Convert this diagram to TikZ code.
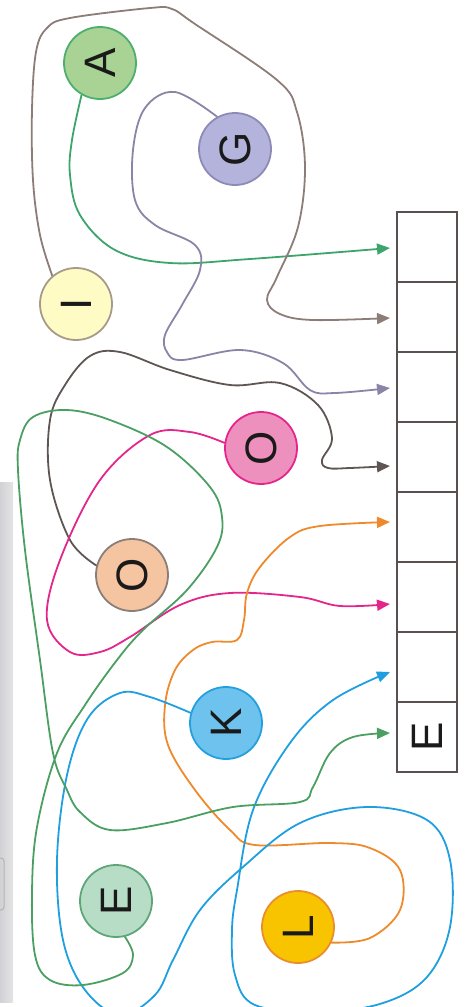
\documentclass[tikz,border=0pt]{standalone}
\usepackage{fontspec}
\setmainfont{Liberation Sans}
\usetikzlibrary{arrows.meta}
\pgfdeclarelayer{background}
\pgfsetlayers{background,main}
\definecolor{lA}{HTML}{3DA56B}\definecolor{fA}{HTML}{A8D394}\definecolor{dA}{HTML}{4DAE6E}
\definecolor{lI}{HTML}{8C7D78}\definecolor{fI}{HTML}{FFFBC4}\definecolor{dI}{HTML}{A89A88}
\definecolor{lG}{HTML}{8A84A6}\definecolor{fG}{HTML}{B4B3DC}\definecolor{dG}{HTML}{8E8AB8}
\definecolor{lP}{HTML}{5F5654}\definecolor{fP}{HTML}{F5C4A1}\definecolor{dP}{HTML}{8A7E78}
\definecolor{lM}{HTML}{E4268C}\definecolor{fM}{HTML}{EE90BE}\definecolor{dM}{HTML}{E4268C}
\definecolor{lL}{HTML}{EE8A2C}\definecolor{fL}{HTML}{F8C400}\definecolor{dL}{HTML}{EA8E2C}
\definecolor{lK}{HTML}{1F9FDF}\definecolor{fK}{HTML}{6EC3EE}\definecolor{dK}{HTML}{23A0DD}
\definecolor{lE}{HTML}{4B9F62}\definecolor{fE}{HTML}{B8DDC6}\definecolor{dE}{HTML}{5EA578}
\definecolor{boxc}{HTML}{5A5050}
\definecolor{ink}{HTML}{1A1A1A}
\definecolor{stripA}{HTML}{D2D2D6}
\definecolor{stripB}{HTML}{E4E4E6}
\newcommand{\rl}[1]{\rotatebox{90}{#1}}
\begin{document}
\begin{tikzpicture}[x=1pt,y=-1pt,
  ball/.style={circle,minimum size=72pt,inner sep=0pt,line width=1.8pt,
    text=ink,font=\fontsize{44}{44}\selectfont},
  cell/.style={rectangle,draw=boxc,line width=2pt,minimum width=60pt,minimum height=70pt,inner sep=0pt,
    text=ink,font=\fontsize{44}{44}\selectfont},
  wire/.style={line width=1.8pt,line cap=round,line join=round},
  tip/.style={-{Triangle[length=13pt,width=11pt]}}]
\useasboundingbox (0,0) rectangle (467,1007);
\clip (0,0) rectangle (467,1007);
% left grey strip
\fill[left color=stripA,right color=stripB] (0,482) rectangle (13,1002);
\draw[gray!60,line width=1pt,rounded corners=3pt] (-6,858) rectangle (4,910);
% cells
\foreach \i/\y in {1/247,2/317,3/387,4/457,5/527,6/597,7/667}
  \node[cell] (b\i) at (427,\y) {};
\node[cell] (b8) at (427,737) {\rl{E}};
% tips
\coordinate (t1) at (390,248);
\coordinate (t2) at (390,318);
\coordinate (t3) at (390,388);
\coordinate (t4) at (390,466);
\coordinate (t5) at (390,522);
\coordinate (t6) at (390,604);
\coordinate (t7) at (390,672);
\coordinate (t8) at (390,733);
% circles
\node[ball,fill=fA,draw=dA] (A) at (100,63) {\rl{A}};
\node[ball,fill=fG,draw=dG] (G) at (235,149) {\rl{G}};
\node[ball,fill=fI,draw=dI] (I) at (76,304) {\rl{I}};
\node[ball,fill=fM,draw=dM] (O1) at (261,448) {\rl{O}};
\node[ball,fill=fP,draw=dP] (O2) at (132,575) {\rl{O}};
\node[ball,fill=fK,draw=dK] (K) at (226,723) {\rl{K}};
\node[ball,fill=fE,draw=dE] (E) at (116,901) {\rl{E}};
\node[ball,fill=fL,draw=dL] (L) at (298,927) {\rl{L}};
% wires
\begin{pgfonlayer}{background}
\draw[wire,tip,lA] plot[smooth,tension=0.6] coordinates {(A.240) (72,140) (70,175) (80,215) (115,250) (170,263) (250,259) (t1)};
\draw[wire,tip,lI] plot[smooth,tension=0.6] coordinates {(I.130) (40,235) (33,180) (32,110) (36,52) (47,28) (70,18) (150,8) (172,9) (195,24) (277,80) (297,112) (305,167) (298,227) (277,277) (267,300) (280,314) (313,320) (t2)};
\draw[wire,tip,lG] plot[smooth,tension=0.6] coordinates {(G.119) (175,92) (145,108) (133,150) (135,200) (155,225) (195,245) (200,270) (182,305) (165,335) (167,352) (182,360) (240,350) (283,363) (310,390) (335,393) (t3)};
\draw[wire,tip,lP] plot[smooth,tension=0.6] coordinates {(O2.165) (70,540) (50,480) (50,420) (65,385) (90,356) (120,352) (170,370) (230,385) (280,383) (318,405) (332,438) (322,460) (328,468) (350,468) (t4)};
\draw[wire,tip,lM] plot[smooth,tension=0.6] coordinates {(O1.172) (190,432) (150,435) (100,480) (60,560) (47,620) (70,652) (100,652) (130,637) (180,605) (230,593) (300,597) (340,606) (t6)};
\draw[wire,tip,lL] plot[smooth,tension=0.6] coordinates {(L.-25) (370,938) (400,910) (400,870) (370,848) (330,843) (255,845) (230,830) (195,790) (168,745) (165,705) (175,670) (193,650) (212,642) (237,640) (244,620) (247,593) (260,567) (290,537) (320,526) (t5)};
\draw[wire,tip,lK] plot[smooth,tension=0.6] coordinates {(K.164) (150,697) (120,693) (88,718) (67,775) (57,860) (63,940) (85,990) (120,1015) (155,995) (173,960) (200,910) (243,867) (300,823) (367,807) (427,820) (450,860) (450,927) (427,977) (383,1003) (320,1012) (255,1005) (235,975) (232,930) (237,890) (253,810) (290,743) (333,700) (t7)};
\draw[wire,tip,lE] plot[smooth,tension=0.6] coordinates {(E.284) (133,955) (123,973) (83,985) (50,980) (35,955) (32,893) (37,827) (57,753) (85,705) (117,660) (143,630) (187,590) (217,547) (222,517) (210,487) (167,447) (110,420) (67,410) (33,417) (20,440) (18,470) (25,550) (40,660) (53,753) (67,790) (80,812) (110,830) (167,823) (233,807) (300,802) (313,787) (330,753) (353,737) (t8)};
\end{pgfonlayer}
\end{tikzpicture}
\end{document}
